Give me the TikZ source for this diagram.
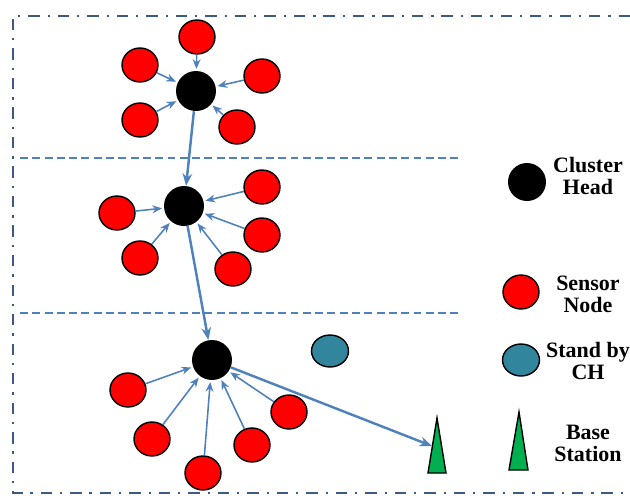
\documentclass[tikz,border=0pt]{standalone}
\usepackage{fontspec}
\setmainfont{Liberation Serif}
\usetikzlibrary{shapes.geometric}
\usetikzlibrary{arrows.meta}
\definecolor{linkblue}{RGB}{79,129,189}
\definecolor{framegray}{RGB}{60,90,130}
\definecolor{standbyteal}{RGB}{49,133,156}
\definecolor{stationgreen}{RGB}{0,176,80}

\begin{document}
\begin{tikzpicture}[x=0.02cm, y=-0.02cm,
    head/.style={circle, fill=black, minimum size=0.8cm, inner sep=0pt},
    sensor/.style={ellipse, draw=black, line width=0.8pt, fill=red, minimum width=0.72cm, minimum height=0.68cm, inner sep=0pt},
    standby/.style={ellipse, draw=black, line width=0.8pt, fill=standbyteal, minimum width=0.74cm, minimum height=0.64cm, inner sep=0pt},
    link/.style={-{Stealth[length=5.5pt,width=4.5pt]}, linkblue, line width=0.9pt, shorten >=1pt},
    hop/.style={-{Stealth[length=7pt,width=5.5pt]}, linkblue, line width=1.4pt},
    layer/.style={linkblue, line width=1.3pt, dash pattern=on 4.5pt off 2.5pt},
    legend/.style={font=\bfseries\fontsize{12.5}{12.5}\selectfont, align=center}]

\useasboundingbox (0,0) rectangle (630,495);

% Outer frame
\draw[framegray, line width=1.6pt, dash pattern=on 6.5pt off 4.5pt on 1.3pt off 4.5pt]
    (630,16) -- (13,16) -- (13,493) -- (630,493);

% Layer borders
\draw[layer] (20,158) -- (460,158);
\draw[layer] (20,313) -- (460,313);

% Cluster 1
\node[head] (ch1) at (196,91) {};
\foreach \n/\x/\y in {a/197/37, b/140/65, c/262/76, d/140/120, e/237/127}
    \node[sensor] (s1\n) at (\x,\y) {};
\foreach \n in {a,b,c,d,e}
    \draw[link] (s1\n) -- (ch1);

% Cluster 2
\node[head] (ch2) at (184,206) {};
\foreach \n/\x/\y in {a/117/213, b/140/258, c/262/187, d/262/235, e/233/269}
    \node[sensor] (s2\n) at (\x,\y) {};
\foreach \n in {a,b,c,d,e}
    \draw[link] (s2\n) -- (ch2);

% Cluster 3
\node[head] (ch3) at (212,360) {};
\foreach \n/\x/\y in {a/128/390, b/152/439, c/203/473, d/252/445, e/289/412}
    \node[sensor] (s3\n) at (\x,\y) {};
\foreach \n in {a,b,c,d,e}
    \draw[link] (s3\n) -- (ch3);

% Stand by CH
\node[standby] (sb) at (330,351) {};

% Base station
\draw[black, line width=0.8pt, fill=stationgreen] (437,418) -- (446,473) -- (428,473) -- cycle;
\coordinate (bs) at (432,446);

% Multi-hop path
\draw[hop] (ch1) -- (ch2);
\draw[hop] (ch2) -- (ch3);
\draw[hop] (ch3) -- (bs);

% Legend
\node[head, minimum size=0.76cm] (lhead) at (527,182) {};
\node[legend] (thead) at (588,176) {Cluster\\Head};
\node[sensor] (lsensor) at (521,292) {};
\node[legend] (tsensor) at (588,294) {Sensor\\Node};
\node[standby] (lstandby) at (521,360) {};
\node[legend] (tstandby) at (588,361) {Stand by\\CH};
\draw[black, line width=0.8pt, fill=stationgreen] (519,412) -- (528,470) -- (509,470) -- cycle;
\node[legend] (tstation) at (588,443) {Base\\Station};

\end{tikzpicture}
\end{document}
